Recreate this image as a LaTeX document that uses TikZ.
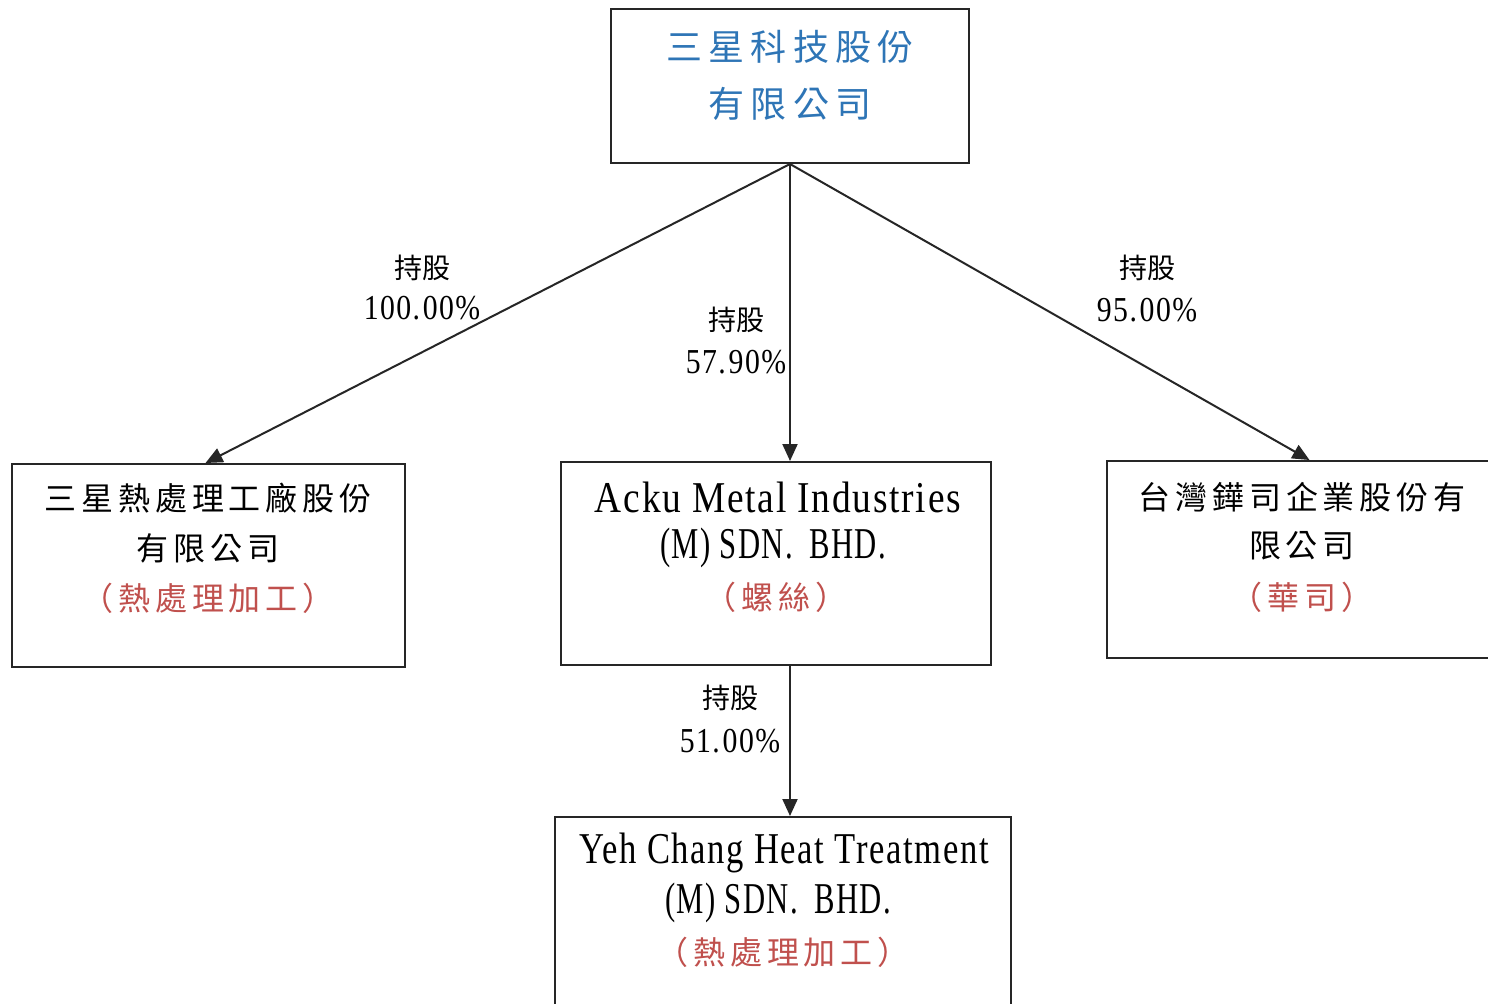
\documentclass[tikz,border=0pt]{standalone}
\usepackage{fontspec}
\usepackage{graphicx}
\setmainfont{Liberation Serif}[FakeStretch=0.85,LetterSpace=4]
\newfontfamily\cjk{Noto Sans CJK TC}
\newfontfamily\cjkS{Noto Sans CJK TC}[LetterSpace=15]
\newfontfamily\cjkT{Noto Sans CJK TC}[LetterSpace=17]
\usetikzlibrary{arrows.meta,calc}
\definecolor{tblue}{HTML}{2E75B6}
\definecolor{tred}{HTML}{C0504D}
\newcommand\labcjk{\cjk\fontsize{14}{16}\selectfont}
\newcommand\labnum{\fontsize{17.5}{20}\selectfont}
\newcommand\boxcjk{\cjkS\fontsize{16}{18}\selectfont}
\newcommand\boxlat{\fontsize{22}{24}\selectfont}
\newcommand\topcjk{\cjkT\fontsize{18}{20}\selectfont}
\begin{document}
\begin{tikzpicture}[x=0.5pt,y=-0.5pt,
  box/.style={draw=black!85,line width=1pt,inner sep=0pt},
  conn/.style={draw=black!85,line width=1pt,-{Triangle[length=8.5pt,width=7.5pt]}},
  txt/.style={inner sep=0pt,anchor=center},
  red/.style={txt,text=tred},
  blue/.style={txt,text=tblue}]
\useasboundingbox (0,0) rectangle (1488,1003);
\clip (0,0) rectangle (1488,1003);
\fill[white] (0,0) rectangle (1488,1003);
% boxes
\node[box,minimum width=179pt,minimum height=77pt] (top) at (790,86) {};
\node[box,minimum width=196.5pt,minimum height=101.5pt] (left) at (208.5,565.5) {};
\node[box,minimum width=215pt,minimum height=101.5pt] (mid) at (776,563.5) {};
\node[box,minimum width=192.5pt,minimum height=98.5pt] (right) at (1299.5,559.5) {};
\node[box,minimum width=228pt,minimum height=96.5pt] (bot) at (783,913.5) {};
% connectors
\draw[conn] (top.south) -- ($(left.north)+(-3,0)$);
\draw[conn] (top.south) -- (top.south |- mid.north);
\draw[conn] (top.south) -- ($(right.north)+(10,0)$);
\draw[conn] (top.south |- mid.south) -- (top.south |- bot.north);
% texts in boxes
\node[blue] (t1) at (790,47) {\topcjk 三星科技股份};
\node[blue] (t2) at (790,104) {\topcjk 有限公司};
\node[txt] (a1) at (208,498) {\boxcjk 三星熱處理工廠股份};
\node[txt] (a2) at (208,548) {\boxcjk 有限公司};
\node[red] (a3) at (208,598) {\boxcjk （熱處理加工）};
\node[txt] (b1) at (778,497) {\boxlat Acku Metal Industries};
\node[txt] (b2) at (773,548) {\scalebox{0.82}[1]{\boxlat (M)\hspace{0.25em}SDN.\hspace{0.45em}BHD.}};
\node[red] (b3) at (776,597) {\boxcjk （螺絲）};
\node[txt] (c1) at (1302,497) {\boxcjk 台灣鏵司企業股份有};
\node[txt] (c2) at (1302,546) {\boxcjk 限公司};
\node[red] (c3) at (1302,597) {\boxcjk （華司）};
\node[txt] (d1) at (784,853) {\scalebox{0.925}[1]{\boxlat Yeh Chang Heat Treatment}};
\node[txt] (d2) at (778,903) {\scalebox{0.82}[1]{\boxlat (M)\hspace{0.25em}SDN.\hspace{0.45em}BHD.}};
\node[red] (d3) at (783,952) {\boxcjk （熱處理加工）};
% ownership labels
\node[txt] (p1a) at (422,268) {\labcjk 持股};
\node[txt] (p1b) at (422,308) {\labnum 100.\hspace{0.08em}00\%};
\node[txt] (p2a) at (736,320) {\labcjk 持股};
\node[txt] (p2b) at (736,362) {\labnum 57.\hspace{0.08em}90\%};
\node[txt] (p3a) at (1147,268) {\labcjk 持股};
\node[txt] (p3b) at (1147,310) {\labnum 95.\hspace{0.08em}00\%};
\node[txt] (p4a) at (730,698) {\labcjk 持股};
\node[txt] (p4b) at (730,741) {\labnum 51.\hspace{0.08em}00\%};
\end{tikzpicture}
\end{document}
